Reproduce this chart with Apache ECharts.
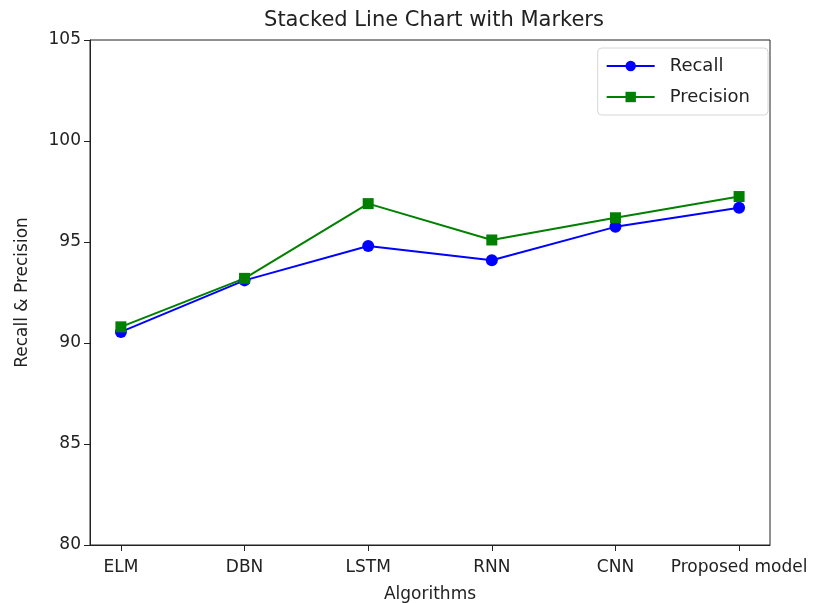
<!DOCTYPE html>
<html>
<head>
<meta charset="utf-8">
<script src="https://cdn.jsdelivr.net/npm/echarts@6/dist/echarts.min.js"></script>
<style>
  html, body { margin: 0; padding: 0; background: #fff; }
  #chart { width: 814px; height: 603px; }
</style>
</head>
<body>
<div id="chart"></div>
<script>
const algorithms = ['ELM', 'DBN', 'LSTM', 'RNN', 'CNN', 'Proposed model'];
const recall = [90.55, 93.1, 94.8, 94.1, 95.75, 96.7];
const precision = [90.8, 93.2, 96.9, 95.1, 96.2, 97.25];
const yTicks = [80, 85, 90, 95, 100, 105];

const font = 'DejaVu Sans';
const toPairs = vals => vals.map((v, i) => [i, v]);
const tickIdx = algorithms.map((_, i) => i);

const chart = echarts.init(document.getElementById('chart'));
chart.setOption({
    animation: false,
    textStyle: { fontFamily: font },
    title: {
        text: 'Stacked Line Chart with Markers',
        left: 429, top: 5, textAlign: 'center',
        textStyle: { fontFamily: font, fontSize: 21, fontWeight: 'normal', color: '#222' }
    },
    legend: {
        orient: 'vertical',
        right: 46, top: 48,
        itemWidth: 48, itemHeight: 13, itemGap: 13,
        padding: [9, 18, 9, 8],
        borderColor: '#d6d6d6', borderWidth: 1, borderRadius: 4,
        textStyle: { fontFamily: font, fontSize: 18, color: '#222', padding: [0, 0, 0, 10] },
        data: ['Recall', 'Precision']
    },
    grid: { left: 90, right: 44, top: 40, bottom: 58, outerBoundsMode: 'none', containLabel: false },
    xAxis: {
        type: 'value',
        min: -0.25, max: 5.25,
        name: 'Algorithms', nameLocation: 'middle', nameGap: 41,
        nameTextStyle: { fontFamily: font, fontSize: 17, color: '#222' },
        splitLine: { show: false },
        axisLine: { show: true, onZero: false, lineStyle: { color: '#222', width: 1 } },
        axisTick: { show: true, length: 6, lineStyle: { color: '#222', width: 1 }, customValues: tickIdx },
        axisLabel: {
            color: '#222', fontSize: 17, fontFamily: font, margin: 14,
            customValues: tickIdx,
            formatter: v => algorithms[Math.round(v)]
        }
    },
    yAxis: {
        type: 'value',
        min: 80, max: 105, interval: 5,
        name: 'Recall & Precision', nameLocation: 'middle', nameGap: 59,
        nameTextStyle: { fontFamily: font, fontSize: 17, color: '#222' },
        splitLine: { show: false },
        axisLine: { show: true, onZero: false, lineStyle: { color: '#222', width: 1 } },
        axisTick: { show: true, length: 6, lineStyle: { color: '#222', width: 1 } },
        axisLabel: {
            color: '#222', fontSize: 17, fontFamily: font, margin: 9,
            formatter: v => yTicks.includes(v) ? String(v) : ''
        }
    },
    series: [
        {
            name: 'Recall', type: 'line', data: toPairs(recall),
            symbol: 'circle', symbolSize: 12,
            lineStyle: { color: '#0000ff', width: 2 },
            itemStyle: { color: '#0000ff' }
        },
        {
            name: 'Precision', type: 'line', data: toPairs(precision),
            symbol: 'rect', symbolSize: 11,
            lineStyle: { color: '#008000', width: 2 },
            itemStyle: { color: '#008000' }
        }
    ]
});
// top and right frame lines
chart.setOption({
    graphic: [{
        type: 'rect', silent: true, z: 0,
        shape: { x: 90, y: 40, width: 680, height: 505 },
        style: { fill: 'none', stroke: '#222', lineWidth: 1 }
    }]
});
</script>
</body>
</html>
